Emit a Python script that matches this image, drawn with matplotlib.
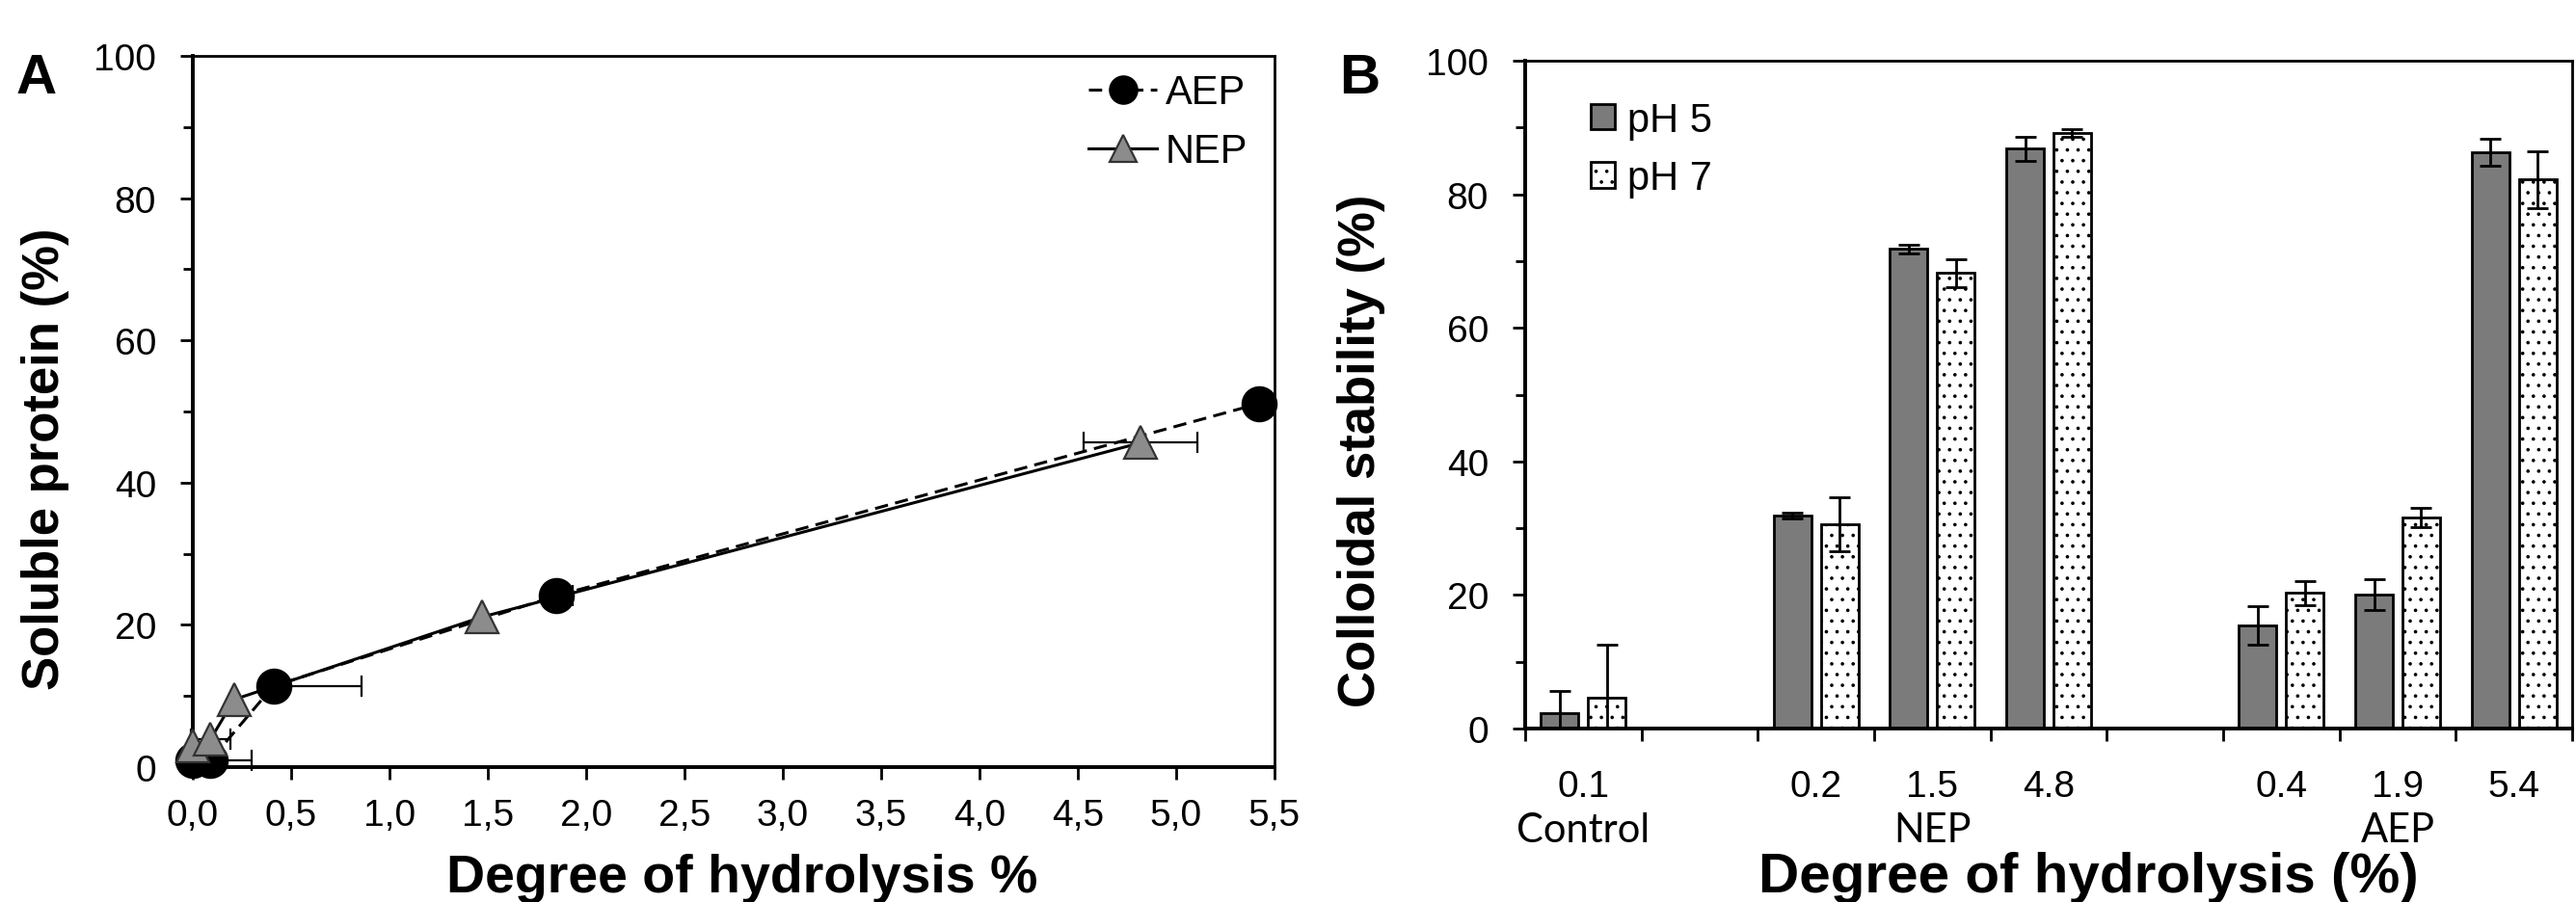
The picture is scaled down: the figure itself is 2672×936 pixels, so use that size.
import numpy as np
import matplotlib
matplotlib.use('Agg')
import matplotlib.pyplot as plt
from matplotlib.ticker import MultipleLocator, FuncFormatter, FixedLocator, NullFormatter

plt.rcParams['font.family'] = ['Liberation Sans', 'DejaVu Sans']
plt.rcParams['hatch.linewidth'] = 0.5

# ---- panel A data: soluble protein vs degree of hydrolysis
aep_dh = [0.0, 0.09, 0.41, 1.85, 5.42]
aep_sol = [1.0, 1.0, 11.4, 24.1, 51.1]
aep_dh_err = [0.0, 0.21, 0.45, 0.08, 0.0]
nep_dh = [0.0, 0.09, 0.21, 1.47, 4.82]
nep_sol = [3.0, 3.9, 9.5, 21.1, 45.6]
nep_dh_err = [0.0, 0.10, 0.0, 0.0, 0.29]

# ---- panel B data: colloidal stability
categories = ['0.1', '', '0.2', '1.5', '4.8', '', '0.4', '1.9', '5.4']
groups = ['Control', 'NEP', 'AEP']
group_members = [[0], [2, 3, 4], [6, 7, 8]]
ph5 = [2.3, np.nan, 31.9, 71.8, 86.8, np.nan, 15.4, 20.0, 86.3]
ph5_err = [3.3, np.nan, 0.4, 0.7, 1.8, np.nan, 2.9, 2.3, 2.0]
ph7 = [4.6, np.nan, 30.6, 68.2, 89.2, np.nan, 20.3, 31.6, 82.2]
ph7_err = [8.0, np.nan, 4.0, 2.1, 0.6, np.nan, 1.8, 1.5, 4.3]

W, H, DPI = 2672, 937, 200
fig = plt.figure(figsize=(W / DPI, H / DPI), dpi=DPI)


def px_axes(l, t, r, b):
    return fig.add_axes([l / W, 1 - b / H, (r - l) / W, (b - t) / H])


def style_spines(ax):
    for s in ['left', 'bottom']:
        ax.spines[s].set_linewidth(1.4)
    for s in ['top', 'right']:
        ax.spines[s].set_linewidth(1.0)


# %% panel A
axA = px_axes(200, 59, 1322, 797)
style_spines(axA)

aep_err = [np.zeros(len(aep_dh_err)), aep_dh_err]
axA.errorbar(aep_dh, aep_sol, xerr=aep_err, fmt='none', ecolor='black',
             elinewidth=0.8, capsize=4, capthick=0.8, clip_on=False, zorder=2)
axA.errorbar(nep_dh, nep_sol, xerr=nep_dh_err, fmt='none', ecolor='black',
             elinewidth=0.8, capsize=4, capthick=0.8, clip_on=False, zorder=2)
axA.plot(aep_dh, aep_sol, color='black', lw=1.1, dashes=(4.5, 2.5),
         marker='o', ms=12.5, mfc='black', mec='black', clip_on=False,
         zorder=3, label='AEP')
axA.plot(nep_dh, nep_sol, color='black', lw=1.1, ls='-',
         marker='^', ms=12.5, mfc='#8c8c8c', mec='#333333', mew=0.8,
         clip_on=False, zorder=4, label='NEP')

axA.set_xlim(0, 5.5)
axA.set_ylim(0, 100)
axA.xaxis.set_major_locator(MultipleLocator(0.5))
axA.xaxis.set_major_formatter(FuncFormatter(lambda v, p: f'{v:.1f}'.replace('.', ',')))
axA.yaxis.set_major_locator(MultipleLocator(20))
axA.yaxis.set_minor_locator(MultipleLocator(10))
axA.tick_params(which='major', direction='out', length=4.7, width=1.0,
                labelsize=14, pad=7)
axA.tick_params(axis='y', which='minor', direction='out', length=3.6, width=1.0)
axA.tick_params(axis='y', which='major', pad=9)
axA.set_xlabel('Degree of hydrolysis %', fontsize=20, fontweight='bold')
axA.xaxis.set_label_coords(0.508, -0.121)
axA.set_ylabel('Soluble protein (%)', fontsize=19, fontweight='bold')
axA.yaxis.set_label_coords(-0.114, 0.435)
axA.legend(loc='upper right', bbox_to_anchor=(0.975, 0.975), frameon=False,
           fontsize=15, handlelength=1.7, handletextpad=0.2, labelspacing=0.5,
           borderaxespad=0, borderpad=0, numpoints=1, markerscale=0.8)

# %% panel B
axB = px_axes(1582, 64, 2668, 757)
style_spines(axB)

x = np.arange(len(categories))
has = ~np.isnan(np.array(ph5))
bw = 0.323
off = 0.203
axB.bar(x[has] - off, np.array(ph5)[has], bw, yerr=np.array(ph5_err)[has],
        color='#7b7b7b', edgecolor='black', linewidth=1.0,
        error_kw=dict(elinewidth=1.0, capsize=4, capthick=1.0, ecolor='black'),
        label='pH 5')
axB.bar(x[has] + off, np.array(ph7)[has], bw, yerr=np.array(ph7_err)[has],
        color='white', edgecolor='black', linewidth=1.0, hatch='...',
        error_kw=dict(elinewidth=1.0, capsize=4, capthick=1.0, ecolor='black'),
        label='pH 7')

axB.set_xlim(-0.5, len(categories) - 0.5)
axB.set_ylim(0, 100)
axB.xaxis.set_major_locator(FixedLocator(np.arange(-0.5, len(categories), 1.0)))
axB.xaxis.set_major_formatter(NullFormatter())
axB.xaxis.set_minor_locator(FixedLocator(x))
axB.set_xticklabels(categories, minor=True)
axB.tick_params(axis='x', which='major', direction='out', length=4.7, width=1.0)
axB.tick_params(axis='x', which='minor', length=0, labelsize=14, pad=15)
axB.yaxis.set_major_locator(MultipleLocator(20))
axB.yaxis.set_minor_locator(MultipleLocator(10))
axB.tick_params(axis='y', which='major', direction='out', length=4.7, width=1.0,
                labelsize=14, pad=9)
axB.tick_params(axis='y', which='minor', direction='out', length=3.6, width=1.0)

for g, members in zip(groups, group_members):
    axB.text(np.mean(x[members]), -0.151, g, transform=axB.get_xaxis_transform(),
             ha='center', va='center', fontsize=15, family=['Lato', 'DejaVu Sans'])

axB.set_xlabel('Degree of hydrolysis (%)', fontsize=21, fontweight='bold')
axB.xaxis.set_label_coords(0.538, -0.183)
axB.set_ylabel('Colloidal stability (%)', fontsize=19, fontweight='bold')
axB.yaxis.set_label_coords(-0.1335, 0.417)
axB.legend(loc='upper left', bbox_to_anchor=(0.063, 0.94), frameon=False,
           fontsize=15, handlelength=0.6, handleheight=0.6, handletextpad=0.3,
           labelspacing=0.5, borderaxespad=0, borderpad=0)

fig.text(17 / W, 1 - 97 / H, 'A', fontsize=21, fontweight='bold', va='baseline')
fig.text(1389 / W, 1 - 97 / H, 'B', fontsize=21, fontweight='bold', va='baseline')

fig.savefig('out.png', dpi=DPI)
